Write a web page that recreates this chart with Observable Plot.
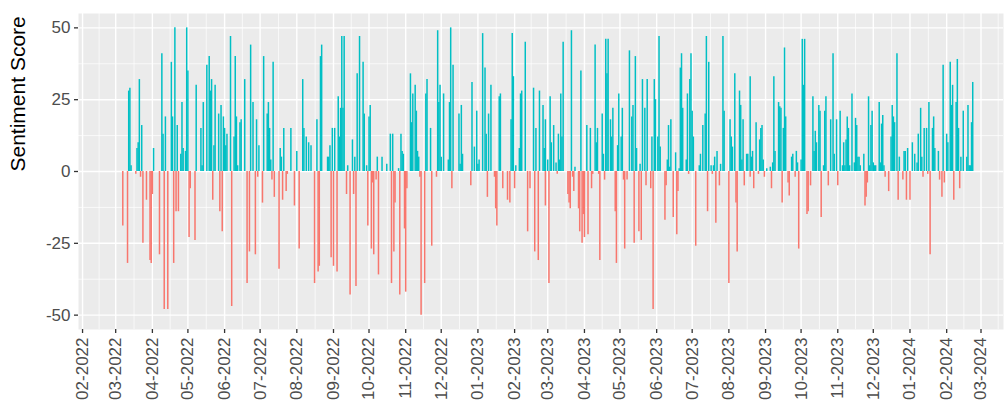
<!DOCTYPE html>
<html><head><meta charset="utf-8">
<script src="https://cdn.jsdelivr.net/npm/d3@7"></script>
<script src="https://cdn.jsdelivr.net/npm/@observablehq/plot@0.6"></script>
<style>html,body{margin:0;padding:0;background:#fff;}</style>
</head><body><div id="chart"></div>
<script>
const dates = [
"2022-03-07","2022-03-11","2022-03-12","2022-03-13","2022-03-14","2022-03-18","2022-03-19","2022-03-20","2022-03-21","2022-03-22","2022-03-23","2022-03-24","2022-03-27","2022-03-30","2022-03-31",
"2022-04-01","2022-04-02","2022-04-07","2022-04-09","2022-04-10","2022-04-11","2022-04-12","2022-04-14","2022-04-17","2022-04-18","2022-04-19","2022-04-20","2022-04-21","2022-04-22","2022-04-23","2022-04-25","2022-04-26","2022-04-27","2022-04-29","2022-04-30",
"2022-05-01","2022-05-02","2022-05-03","2022-05-07","2022-05-08","2022-05-12","2022-05-13","2022-05-14","2022-05-17","2022-05-19","2022-05-20","2022-05-21","2022-05-22","2022-05-23","2022-05-24","2022-05-27","2022-05-28","2022-05-29","2022-05-30","2022-05-31",
"2022-06-01","2022-06-02","2022-06-03","2022-06-06","2022-06-07","2022-06-09","2022-06-10","2022-06-11","2022-06-12","2022-06-14","2022-06-15","2022-06-18","2022-06-20","2022-06-22","2022-06-23","2022-06-25","2022-06-27","2022-06-28","2022-06-29","2022-06-30",
"2022-07-03","2022-07-04","2022-07-07","2022-07-08","2022-07-09","2022-07-10","2022-07-11","2022-07-12","2022-07-13","2022-07-17","2022-07-18","2022-07-19","2022-07-20","2022-07-21","2022-07-23","2022-07-24","2022-07-27","2022-07-30",
"2022-08-01","2022-08-03","2022-08-06","2022-08-07","2022-08-09","2022-08-11","2022-08-13","2022-08-16","2022-08-18","2022-08-19","2022-08-20","2022-08-21","2022-08-22","2022-08-27","2022-08-28","2022-08-29","2022-08-30","2022-08-31",
"2022-09-01","2022-09-02","2022-09-04","2022-09-05","2022-09-06","2022-09-07","2022-09-08","2022-09-09","2022-09-10","2022-09-12","2022-09-13","2022-09-15","2022-09-17","2022-09-18","2022-09-19","2022-09-20","2022-09-21","2022-09-23","2022-09-26","2022-09-27","2022-09-29","2022-09-30",
"2022-10-01","2022-10-02","2022-10-03","2022-10-04","2022-10-05","2022-10-07","2022-10-08","2022-10-09","2022-10-12","2022-10-16","2022-10-19","2022-10-20","2022-10-21","2022-10-22","2022-10-23","2022-10-26","2022-10-27","2022-10-28","2022-10-29","2022-10-30","2022-10-31",
"2022-11-01","2022-11-02","2022-11-05","2022-11-06","2022-11-07","2022-11-09","2022-11-10","2022-11-11","2022-11-12","2022-11-13","2022-11-14","2022-11-17","2022-11-18","2022-11-19","2022-11-22","2022-11-23","2022-11-27","2022-11-28","2022-11-29","2022-11-30",
"2022-12-01","2022-12-03","2022-12-07","2022-12-08","2022-12-09","2022-12-10","2022-12-11","2022-12-16","2022-12-17","2022-12-18","2022-12-19","2022-12-26","2022-12-27","2022-12-29","2022-12-31",
"2023-01-01","2023-01-02","2023-01-05","2023-01-07","2023-01-08","2023-01-09","2023-01-10","2023-01-12","2023-01-15","2023-01-16","2023-01-17","2023-01-19","2023-01-20","2023-01-22","2023-01-26","2023-01-28","2023-01-29","2023-01-30","2023-01-31",
"2023-02-01","2023-02-02","2023-02-05","2023-02-06","2023-02-07","2023-02-10","2023-02-12","2023-02-14","2023-02-17","2023-02-18","2023-02-19","2023-02-21","2023-02-22","2023-02-25","2023-02-26","2023-02-27","2023-02-27",
"2023-03-01","2023-03-02","2023-03-03","2023-03-04","2023-03-06","2023-03-08","2023-03-09","2023-03-10","2023-03-11","2023-03-12","2023-03-13","2023-03-14","2023-03-18","2023-03-19","2023-03-20","2023-03-21","2023-03-22","2023-03-23","2023-03-24","2023-03-27","2023-03-28","2023-03-29","2023-03-30","2023-03-31",
"2023-04-01","2023-04-03","2023-04-04","2023-04-06","2023-04-07","2023-04-08","2023-04-10","2023-04-11","2023-04-12","2023-04-13","2023-04-14","2023-04-16","2023-04-17","2023-04-18","2023-04-19","2023-04-20","2023-04-21","2023-04-23","2023-04-24","2023-04-25","2023-04-27","2023-04-28","2023-04-29","2023-04-30",
"2023-05-02","2023-05-03","2023-05-04","2023-05-05","2023-05-07","2023-05-09","2023-05-11","2023-05-12","2023-05-13","2023-05-14","2023-05-15","2023-05-17","2023-05-18","2023-05-19","2023-05-20","2023-05-22","2023-05-23","2023-05-24","2023-05-27","2023-05-28","2023-05-29","2023-05-30","2023-05-31",
"2023-06-02","2023-06-03","2023-06-04","2023-06-08","2023-06-09","2023-06-10","2023-06-11","2023-06-12","2023-06-13","2023-06-15","2023-06-17","2023-06-18","2023-06-19","2023-06-20","2023-06-21","2023-06-22","2023-06-23","2023-06-26","2023-06-27","2023-06-28","2023-06-29","2023-06-30",
"2023-07-01","2023-07-02","2023-07-04","2023-07-07","2023-07-08","2023-07-10","2023-07-12","2023-07-13","2023-07-14","2023-07-15","2023-07-17","2023-07-18","2023-07-19","2023-07-20","2023-07-21","2023-07-22","2023-07-24","2023-07-25","2023-07-27","2023-07-28",
"2023-08-01","2023-08-02","2023-08-03","2023-08-04","2023-08-06","2023-08-07","2023-08-08","2023-08-10","2023-08-11","2023-08-12","2023-08-13","2023-08-14","2023-08-16","2023-08-17","2023-08-19","2023-08-19","2023-08-20","2023-08-21","2023-08-22","2023-08-24","2023-08-26","2023-08-27","2023-08-28","2023-08-29","2023-08-30","2023-08-31",
"2023-09-02","2023-09-05","2023-09-06","2023-09-07","2023-09-08","2023-09-09","2023-09-12","2023-09-13","2023-09-14","2023-09-15","2023-09-16","2023-09-17","2023-09-18","2023-09-20","2023-09-21","2023-09-23","2023-09-24","2023-09-26","2023-09-27","2023-09-28","2023-09-29",
"2023-10-01","2023-10-02","2023-10-03","2023-10-04","2023-10-06","2023-10-07","2023-10-09","2023-10-11","2023-10-12","2023-10-13","2023-10-14","2023-10-16","2023-10-17","2023-10-18","2023-10-20","2023-10-21","2023-10-22","2023-10-24","2023-10-26","2023-10-28","2023-10-29","2023-10-31",
"2023-11-01","2023-11-03","2023-11-05","2023-11-06","2023-11-07","2023-11-08","2023-11-09","2023-11-10","2023-11-11","2023-11-13","2023-11-15","2023-11-16","2023-11-17","2023-11-18","2023-11-19","2023-11-20","2023-11-23","2023-11-24","2023-11-25","2023-11-26","2023-11-27","2023-11-28","2023-11-29","2023-11-30",
"2023-12-01","2023-12-02","2023-12-03","2023-12-06","2023-12-07","2023-12-08","2023-12-09","2023-12-10","2023-12-11","2023-12-14","2023-12-16","2023-12-17","2023-12-18","2023-12-19","2023-12-21","2023-12-22","2023-12-23","2023-12-26","2023-12-27","2023-12-28","2023-12-29","2023-12-30",
"2024-01-01","2024-01-03","2024-01-05","2024-01-07","2024-01-08","2024-01-10","2024-01-11","2024-01-12","2024-01-13","2024-01-15","2024-01-16","2024-01-17","2024-01-18","2024-01-20","2024-01-21","2024-01-22","2024-01-25","2024-01-26","2024-01-28","2024-01-29","2024-01-30",
"2024-02-01","2024-02-02","2024-02-04","2024-02-05","2024-02-06","2024-02-07","2024-02-09","2024-02-10","2024-02-11","2024-02-12","2024-02-13","2024-02-15","2024-02-18","2024-02-19","2024-02-20","2024-02-21","2024-02-22","2024-02-23"
];
const scores = [
-19,-32,28,29,2,-1,8,10,32,-2,16,-25,-10,-31,-32,
-8,8,-29,41,13,-48,19,-48,38,19,-32,50,-14,16,-14,6,24,8,7,50,
35,-23,-6,-24,30,15,2,24,37,40,28,32,-10,9,30,20,-14,23,-21,19,
15,9,13,47,-47,12,40,19,2,17,18,32,-39,-28,44,24,-29,18,-2,9,
-11,40,20,24,15,4,-3,38,-9,-34,8,5,-10,15,-7,-1,15,-12,
7,-27,32,15,12,10,9,-39,18,-35,-33,40,44,5,5,9,-30,15,
-33,15,-35,26,12,22,47,22,47,-8,2,-43,11,-8,5,-40,34,47,38,20,2,-19,
19,23,-27,-4,-29,-3,5,-36,5,2.5,13,-39,13,-28,-11,1,-43,13,7,6,-20,
-42,-6,34,17,27,30,21,7,5,-2,-50,-39,27,32,15,-26,-2,49,24,30,
5,27,4,24,50,-6,37,20,2.5,23,6,-5,31,8.5,21,
2.5,4,48,36,13,-9,20,30,-2,-13,-19,26,27,-6,-10,-11,18,48,33,
-6,2,8,27,28,45,-21,-6,29,-28,15,-31,28,23,8,18,-12,
4,-39,26,10,16,3,-1,13,4,27,12,45,-8,-11,-13,49,-2,-7,1.5,-13,-21,35,-25,-15,
-23,16,-22,15,-6,-1,44,10,15,-1,-31,20,6,-3,46,34,46,18,12,22,-14,-32,9,27,
12,22,-3,-27,-3,42,19,23,-25,40,8,-21,2.5,-24,32,22,-5,32,-6,12,-48,32,25,
12,47,8.5,-17,-5,4,16,1.5,18,-16,6.5,-22,-7,1,36,41,22,4,27,-1,32,41,
21,12,-26,2,6,16,20,47,-14,38,2,-1,2,5,-18,7,-5,2.5,47,21,
-39,18,12,8.5,34,-11,-28,28,23,4,18,-5,6,6,33,-2,5,7,-6,17,-1,11,15,16,4,-2,
1,1.5,-6,3,33,7,24,22.5,22,-11,15,43,19,-4,-8.5,5,6,-2,7,3,-27,
4,46,30,46,-15,-14,-5,26,7,14,10,23,21,-16,2,21,26,-5,18,41,6,18,
-5,21,2,10,2,11,19,15,2,27,3,18.5,16,5,5,2,6,-12,-9,-4,26,2,16,21,
3,2,2,24,3,16.5,19.5,2,-2,-7,12,23,19,17,41,-10,5,-3,7,7,-10,8,
-10,10,6,3,13,22,5,-2,15,15,-1,24,-29,15,19,8,7,-3,-9,37,-4,
13,10,38,23,30,-10,24,39,15,-6,5,21,5,23,2,2,17,31
];
const tickLabels = ["02-2022","03-2022","04-2022","05-2022","06-2022","07-2022","08-2022","09-2022","10-2022","11-2022","12-2022",
"01-2023","02-2023","03-2023","04-2023","05-2023","06-2023","07-2023","08-2023","09-2023","10-2023","11-2023","12-2023",
"01-2024","02-2024","03-2024"];
const yTicks = [-50, -25, 0, 25, 50];
const yMinor = [-37.5, -12.5, 12.5, 37.5];
const xDomain = ["2022-01-28T14:00:00Z", "2024-03-20T00:00:00Z"];

const parseMonth = d3.utcParse("%m-%Y");
const majorX = tickLabels.map(parseMonth);
const minorX = majorX.slice(1).map((d, i) => new Date((+d + +majorX[i]) / 2));
minorX.push(new Date(+majorX[majorX.length - 1] + (majorX[majorX.length - 1] - majorX[majorX.length - 2]) / 2));

const data = dates.map((d, i) => ({date: new Date(d + "T00:00:00Z"), score: scores[i]}));
const pos = data.filter(d => d.score > 0);
const neg = data.filter(d => d.score < 0);

const font = "'Liberation Sans', Arial, Helvetica, sans-serif";
const chart = Plot.plot({
  width: 1005, height: 411,
  marginLeft: 78, marginRight: 2, marginTop: 13, marginBottom: 82,
  style: {fontFamily: font, background: "white"},
  x: {type: "utc", domain: xDomain.map(d => new Date(d)), label: null},
  y: {domain: [-55, 55], label: null},
  marks: [
    Plot.frame({fill: "#EBEBEB", stroke: null}),
    Plot.gridY(yMinor, {stroke: "white", strokeOpacity: 1, strokeWidth: 0.7}),
    Plot.gridX(minorX, {stroke: "white", strokeOpacity: 1, strokeWidth: 0.7}),
    Plot.gridY(yTicks, {stroke: "white", strokeOpacity: 1, strokeWidth: 1.4}),
    Plot.gridX(majorX, {stroke: "white", strokeOpacity: 1, strokeWidth: 1.4}),
    Plot.ruleX(pos, {x: "date", y1: 0, y2: "score", stroke: "#00BFC4", strokeWidth: 1.5}),
    Plot.ruleX(neg, {x: "date", y1: 0, y2: "score", stroke: "#F8766D", strokeWidth: 1.5}),
    Plot.axisY(yTicks, {tickSize: 4, tickPadding: 4, fontSize: 17, tickFormat: d => String(d), stroke: "#333333", fill: "#4D4D4D", strokeWidth: 1.3, label: null}),
    Plot.axisX(majorX, {tickSize: 4, tickPadding: 4, tickRotate: -90, tickFormat: d3.utcFormat("%m-%Y"), fontSize: 17, stroke: "#333333", fill: "#4D4D4D", strokeWidth: 1.3, label: null}),
    Plot.text(["Sentiment Score"], {frameAnchor: "left", dx: -60, rotate: -90, fontSize: 21, fill: "#000000"})
  ]
});
document.getElementById("chart").appendChild(chart);
</script>
</body></html>
